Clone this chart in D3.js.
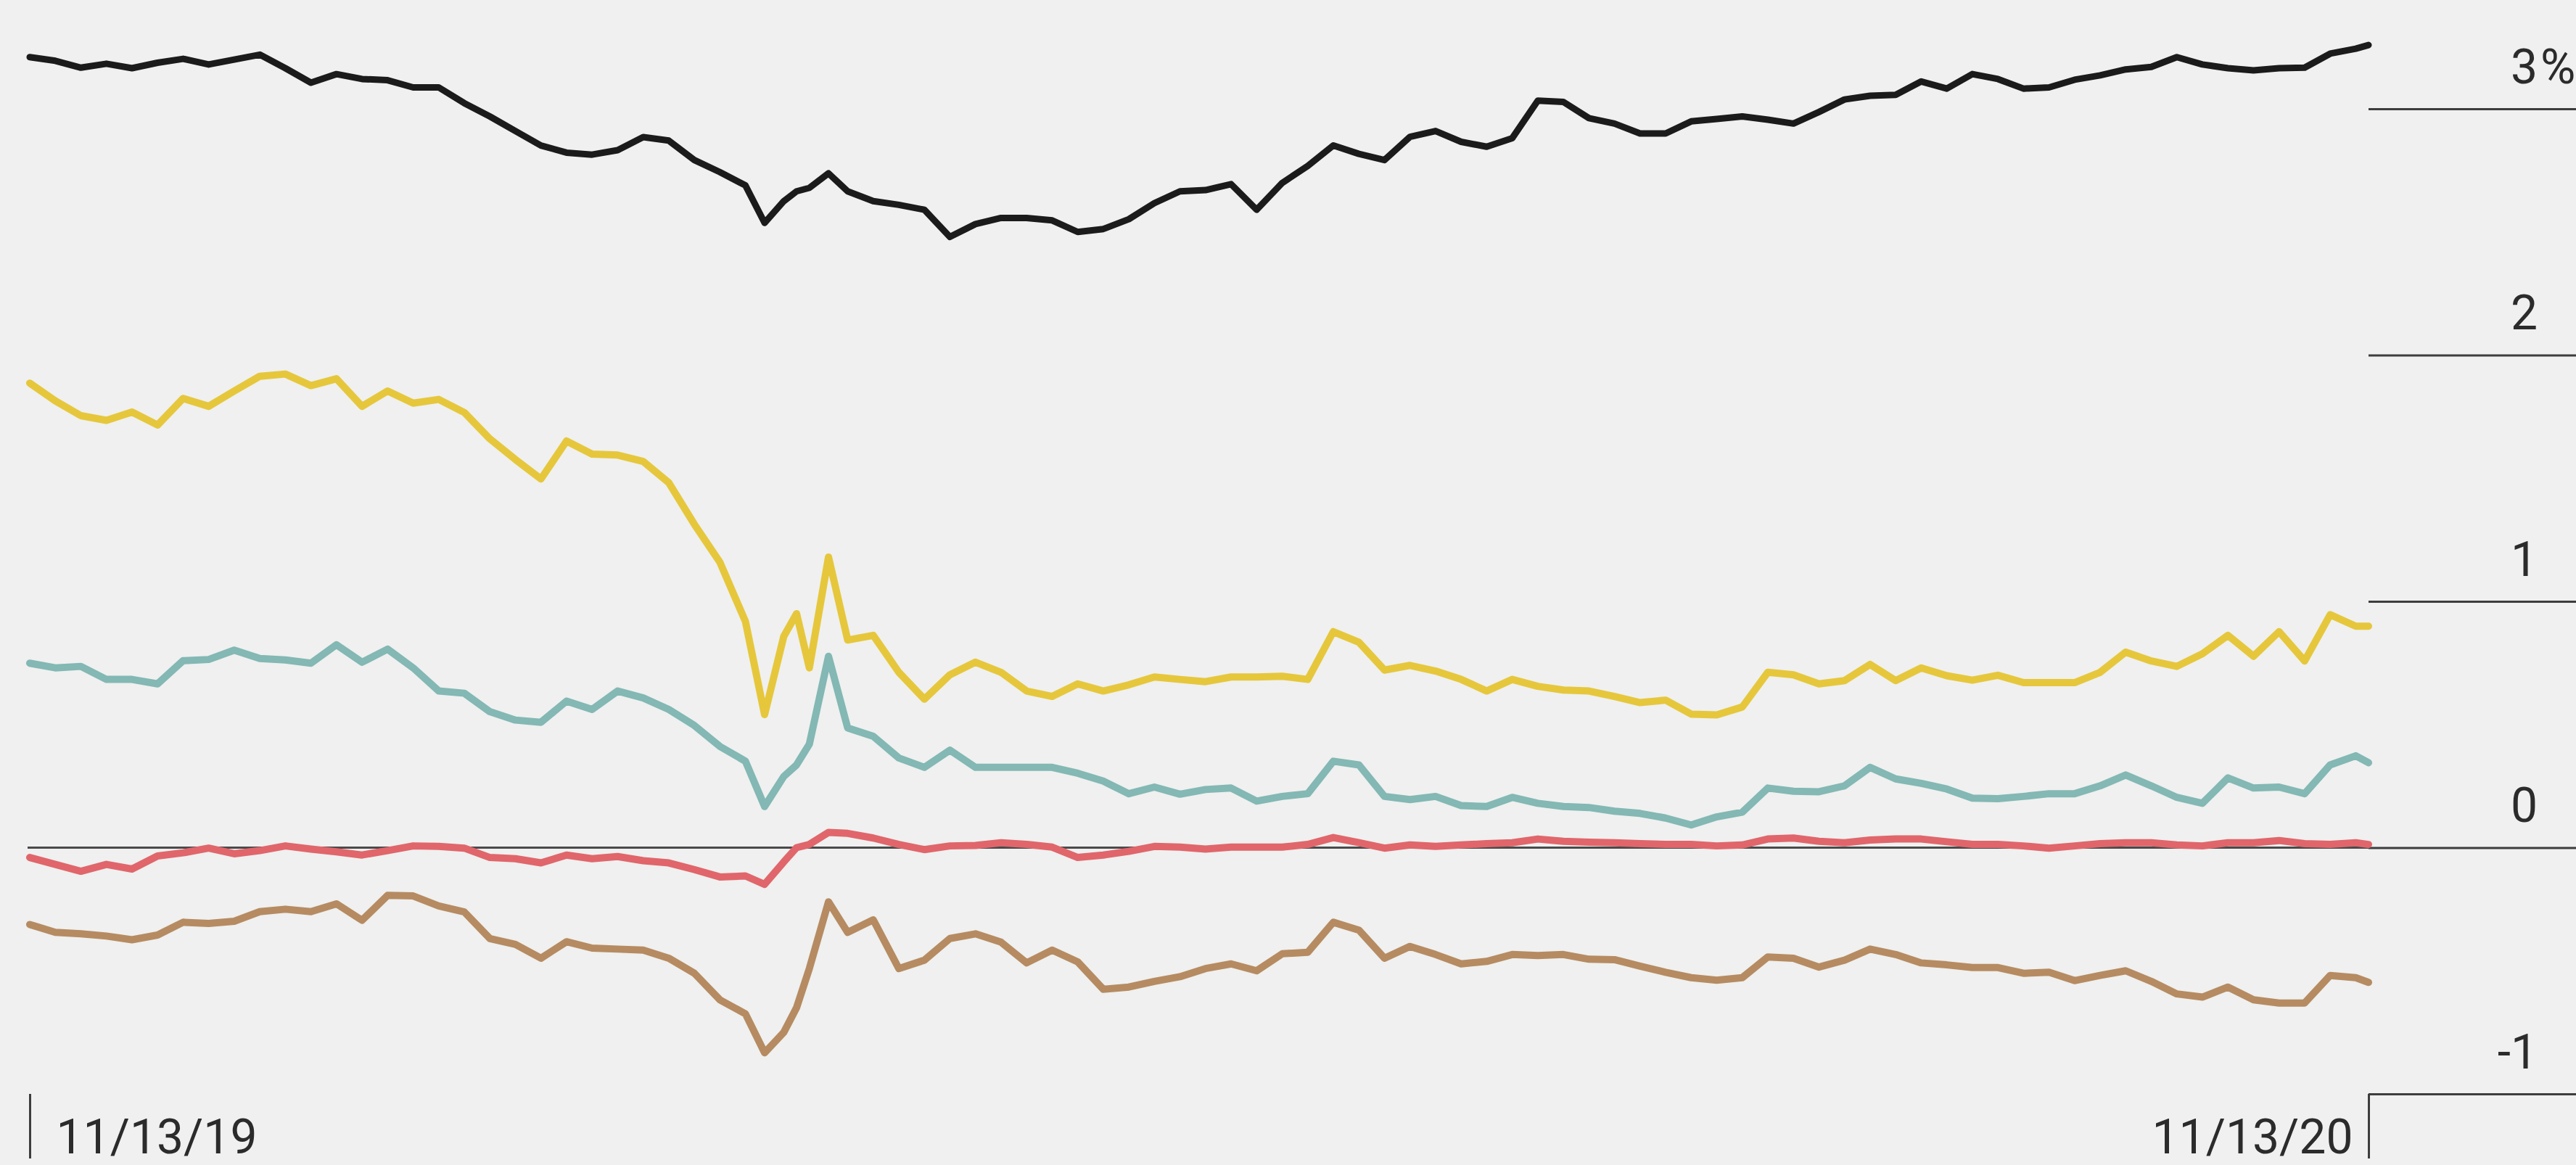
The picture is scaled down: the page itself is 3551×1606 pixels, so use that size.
<!DOCTYPE html>
<html>
<head>
<meta charset="utf-8">
<script src="https://cdnjs.cloudflare.com/ajax/libs/d3/7.8.5/d3.min.js"></script>
<style>
  html, body { margin: 0; padding: 0; background: #eff0ef; }
  #chart { width: 3551px; height: 1606px; }
  text { font-family: Roboto, "Noto Sans", sans-serif; fill: #2b2b2b; }
</style>
</head>
<body>
<div id="chart"></div>
<script>
const width = 3551;
const height = 1606;
const margin = { top: 150, right: 286, bottom: 98, left: 41 };

// section 1
// values (yield, %)

const dates = [
  "2019-11-13","2019-11-17","2019-11-21","2019-11-25","2019-11-29","2019-12-03","2019-12-07","2019-12-11",
  "2019-12-15","2019-12-19","2019-12-23","2019-12-27","2019-12-31","2020-01-04","2020-01-08","2020-01-12",
  "2020-01-16","2020-01-20","2020-01-24","2020-01-28","2020-02-01","2020-02-05","2020-02-09","2020-02-13",
  "2020-02-17","2020-02-21","2020-02-25","2020-02-29","2020-03-04","2020-03-07","2020-03-10","2020-03-12",
  "2020-03-14","2020-03-17","2020-03-20","2020-03-24","2020-03-28","2020-04-01","2020-04-05","2020-04-09",
  "2020-04-13","2020-04-17","2020-04-21","2020-04-25","2020-04-29","2020-05-03","2020-05-07","2020-05-11",
  "2020-05-15","2020-05-19","2020-05-23","2020-05-27","2020-05-31","2020-06-04","2020-06-08","2020-06-12",
  "2020-06-16","2020-06-20","2020-06-24","2020-06-28","2020-07-02","2020-07-06","2020-07-10","2020-07-14",
  "2020-07-18","2020-07-22","2020-07-26","2020-07-30","2020-08-03","2020-08-07","2020-08-11","2020-08-15",
  "2020-08-19","2020-08-23","2020-08-27","2020-08-31","2020-09-04","2020-09-08","2020-09-12","2020-09-16",
  "2020-09-20","2020-09-24","2020-09-28","2020-10-02","2020-10-06","2020-10-10","2020-10-14","2020-10-18",
  "2020-10-22","2020-10-26","2020-10-30","2020-11-03","2020-11-07","2020-11-11","2020-11-13"
];

const blackValues = [
  3.21,3.195,3.167,3.183,3.165,3.187,3.203,3.18,3.20,3.22,3.165,3.106,3.141,3.121,3.116,3.087,
  3.087,3.023,2.969,2.91,2.851,2.822,2.814,2.832,2.885,2.871,2.792,2.743,
  2.689,2.537,2.625,2.665,2.679,2.738,2.665,
  2.625,2.61,2.59,2.48,2.532,2.557,2.557,2.547,2.50,2.512,2.552,2.617,2.665,2.67,2.694,2.59,
  2.699,2.768,2.851,2.817,2.792,2.886,2.91,2.866,2.846,2.881,3.033,3.028,2.962,2.94,2.90,2.90,
  2.949,2.959,2.969,2.956,2.94,2.987,3.038,3.053,3.057,3.111,3.082,3.141,3.121,3.082,3.087,3.118,
  3.136,3.16,3.17,3.21,3.18,3.165,3.156,3.165,3.167,3.224,3.244,3.259
];

const yellowValues = [
  1.886,1.814,1.754,1.735,1.769,1.716,1.824,1.792,1.854,1.914,1.923,1.876,1.904,1.792,1.854,1.805,
  1.82,1.767,1.66,1.576,1.497,1.651,1.598,1.594,1.568,1.482,1.313,1.159,
  0.918,0.54,0.858,0.95,0.73,1.18,0.843,
  0.862,0.712,0.603,0.702,0.753,0.712,0.636,0.614,0.665,0.636,0.661,0.693,0.683,0.674,0.693,0.693,
  0.696,0.683,0.877,0.834,0.721,0.74,0.717,0.683,0.636,0.683,0.655,0.64,0.636,0.614,0.589,0.599,
  0.542,0.539,0.571,0.712,0.702,0.665,0.678,0.744,0.678,0.73,0.698,0.68,0.7,0.67,0.67,0.67,
  0.712,0.794,0.758,0.736,0.787,0.862,0.777,0.877,0.758,0.946,0.899,0.899
];

const tealValues = [
  0.749,0.73,0.736,0.683,0.683,0.665,0.759,0.764,0.802,0.768,0.762,0.749,0.824,0.753,0.806,0.73,
  0.636,0.627,0.552,0.518,0.509,0.595,0.561,0.636,0.608,0.561,0.496,0.411,
  0.351,0.167,0.289,0.336,0.42,0.777,0.486,
  0.452,0.364,0.326,0.396,0.326,0.326,0.326,0.326,0.302,0.27,0.219,0.246,0.217,0.236,0.242,0.189,
  0.208,0.219,0.351,0.336,0.208,0.195,0.208,0.171,0.167,0.204,0.18,0.167,0.163,0.148,0.139,0.12,
  0.092,0.125,0.144,0.242,0.229,0.227,0.251,0.326,0.279,0.261,0.238,0.201,0.199,0.208,0.219,0.219,
  0.251,0.295,0.251,0.204,0.18,0.283,0.242,0.246,0.219,0.336,0.373,0.345
];

const redValues = [
  -0.04,-0.068,-0.096,-0.068,-0.087,-0.034,-0.021,-0.002,-0.025,-0.012,0.007,-0.006,-0.017,-0.03,-0.012,0.007,
  0.005,-0.002,-0.04,-0.045,-0.062,-0.03,-0.045,-0.036,-0.053,-0.062,-0.089,-0.119,
  -0.115,-0.149,-0.058,0.0,0.013,0.062,0.058,
  0.039,0.013,-0.008,0.007,0.009,0.02,0.013,0.002,-0.04,-0.03,-0.015,0.005,0.002,-0.006,0.002,0.002,
  0.002,0.013,0.041,0.02,-0.002,0.011,0.005,0.011,0.016,0.02,0.035,0.026,0.022,0.02,0.016,0.013,
  0.013,0.007,0.011,0.035,0.039,0.026,0.02,0.031,0.035,0.035,0.024,0.013,0.013,0.007,-0.002,0.007,
  0.016,0.02,0.02,0.011,0.007,0.02,0.02,0.029,0.016,0.013,0.02,0.013
];

const brownValues = [
  -0.312,-0.344,-0.35,-0.359,-0.374,-0.355,-0.303,-0.308,-0.299,-0.26,-0.25,-0.26,-0.228,-0.295,-0.194,-0.196,
  -0.237,-0.261,-0.369,-0.393,-0.449,-0.382,-0.408,-0.412,-0.416,-0.449,-0.51,-0.618,
  -0.675,-0.833,-0.75,-0.65,-0.491,-0.22,-0.344,
  -0.293,-0.491,-0.457,-0.369,-0.35,-0.384,-0.468,-0.416,-0.464,-0.575,-0.566,-0.543,-0.524,-0.491,-0.472,-0.5,
  -0.431,-0.425,-0.303,-0.335,-0.449,-0.401,-0.434,-0.472,-0.462,-0.434,-0.438,-0.434,-0.453,-0.455,-0.481,-0.506,
  -0.528,-0.538,-0.528,-0.444,-0.449,-0.485,-0.457,-0.412,-0.434,-0.468,-0.476,-0.487,-0.487,-0.51,-0.506,-0.54,
  -0.519,-0.5,-0.543,-0.594,-0.607,-0.566,-0.618,-0.631,-0.631,-0.519,-0.528,-0.547
];

const yTicks = [-1, 0, 1, 2, 3];
const xTickLabels = ["11/13/19", "11/13/20"];

const seriesList = [
  { key: "yellow", values: yellowValues, color: "#e6c73c", width: 10 },
  { key: "teal", values: tealValues, color: "#83b8b4", width: 10 },
  { key: "brown", values: brownValues, color: "#b68b62", width: 10 },
  { key: "red", values: redValues, color: "#e0666b", width: 10 },
  { key: "black", values: blackValues, color: "#1b1b1b", width: 9 }
];

// section 2
// drawing

const parseDate = d3.timeParse("%Y-%m-%d");
const parsedDates = dates.map(parseDate);

const svg = d3.select("#chart")
    .append("svg")
    .attr("width", width)
    .attr("height", height);

svg.append("rect")
    .attr("width", width)
    .attr("height", height)
    .attr("fill", "#eff0ef");

const xScale = d3.scaleTime()
    .domain([parsedDates[0], parsedDates[parsedDates.length - 1]])
    .range([margin.left, width - margin.right]);

const yScale = d3.scaleLinear()
    .domain([-1, 3])
    .range([height - margin.bottom, margin.top]);

// right side gridlines + labels
const yAxisGroup = svg.append("g")
    .attr("transform", `translate(${width - margin.right}, 0)`);

yAxisGroup.call(d3.axisRight(yScale)
    .tickValues(yTicks)
    .tickSize(margin.right)
    .tickFormat(d => String(d)));

yAxisGroup.select(".domain").remove();
yAxisGroup.selectAll(".tick line")
    .style("stroke", "#3d3d3d")
    .style("stroke-width", "3px");
yAxisGroup.selectAll(".tick text")
    .attr("x", 233)
    .attr("y", -36)
    .attr("dy", 0)
    .style("text-anchor", "end")
    .style("font-size", "66px")
    .style("fill", "#2b2b2b");

// the % sign hangs to the right of the top label
yAxisGroup.selectAll(".tick")
    .filter(d => d === 3)
    .append("text")
    .attr("x", 237)
    .attr("y", -36)
    .style("text-anchor", "start")
    .style("font-size", "66px")
    .style("fill", "#2b2b2b")
    .text("%");

// bottom ticks with first / last date
const xAxisGroup = svg.append("g")
    .attr("transform", `translate(0, ${yScale(-1)})`);

xAxisGroup.call(d3.axisBottom(xScale)
    .tickValues([parsedDates[0], parsedDates[parsedDates.length - 1]])
    .tickSize(89)
    .tickFormat((d, i) => xTickLabels[i]));

xAxisGroup.select(".domain").remove();
xAxisGroup.selectAll(".tick line")
    .style("stroke", "#3d3d3d")
    .style("stroke-width", "3px");
xAxisGroup.selectAll(".tick text")
    .attr("y", 82)
    .attr("dy", 0)
    .attr("x", (d, i) => i === 0 ? 36 : -22)
    .style("text-anchor", (d, i) => i === 0 ? "start" : "end")
    .style("font-size", "66px")
    .style("fill", "#2b2b2b");

// zero line across the plot
svg.append("line")
    .attr("x1", margin.left - 3)
    .attr("x2", width - margin.right)
    .attr("y1", yScale(0))
    .attr("y2", yScale(0))
    .style("stroke", "#4a4a4a")
    .style("stroke-width", "3px");

const line = d3.line()
    .x((d, i) => xScale(parsedDates[i]))
    .y(d => yScale(d));

svg.selectAll(".series")
    .data(seriesList)
    .join("path")
    .attr("class", "series")
    .attr("d", d => line(d.values))
    .style("fill", "none")
    .style("stroke", d => d.color)
    .style("stroke-width", d => d.width + "px")
    .style("stroke-linejoin", "round")
    .style("stroke-linecap", "round");
</script>
</body>
</html>
